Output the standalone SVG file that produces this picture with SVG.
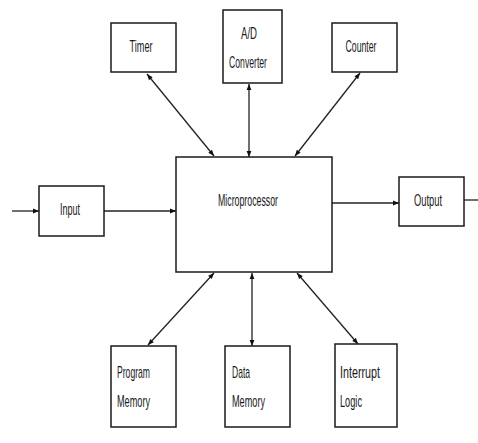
<svg xmlns="http://www.w3.org/2000/svg" width="478" height="443" viewBox="0 0 478 443">
<style>
.box{fill:#fff;stroke:#1a1a1a;stroke-width:1.5}
.t{font-family:"Liberation Sans",Arial,sans-serif;font-size:17px;fill:#1a1a1a}
.c{fill:none;stroke:#222;stroke-width:1.3}
.bi{marker-start:url(#ah);marker-end:url(#ah)}
.one{marker-end:url(#ah)}
</style>
<defs>
<marker id="ah" viewBox="0 0 10 10" refX="10" refY="5" markerWidth="7" markerHeight="6" orient="auto-start-reverse" markerUnits="userSpaceOnUse">
<path d="M0,1 L10,5 L0,9 z" fill="#111"/>
</marker>
</defs>
<g id="connectors">
<line class="c one" x1="12" y1="211" x2="39" y2="211"/>
<line class="c one" x1="104" y1="211" x2="176" y2="211"/>
<line class="c one" x1="332" y1="203" x2="399" y2="203"/>
<line class="c" x1="464" y1="200" x2="478" y2="200"/>
<line class="c bi" x1="147" y1="74" x2="214" y2="156"/>
<line class="c bi" x1="249" y1="84" x2="249" y2="157"/>
<line class="c bi" x1="360" y1="73" x2="295" y2="156"/>
<line class="c bi" x1="214" y1="273" x2="148" y2="345"/>
<line class="c bi" x1="252" y1="273" x2="252" y2="346"/>
<line class="c bi" x1="297" y1="273" x2="358" y2="344"/>
</g>
<g id="timer"><rect class="box" x="111" y="23" width="65" height="49"/><text class="t" x="141" y="52" text-anchor="middle" textLength="23" lengthAdjust="spacingAndGlyphs">Timer</text></g>
<g id="ad"><rect class="box" x="223" y="10" width="59" height="73"/><text class="t" x="249" y="39" text-anchor="middle" textLength="16" lengthAdjust="spacingAndGlyphs">A/D</text><text class="t" x="248" y="68" text-anchor="middle" textLength="38" lengthAdjust="spacingAndGlyphs">Converter</text></g>
<g id="counter"><rect class="box" x="332" y="23" width="65" height="49"/><text class="t" x="361" y="52" text-anchor="middle" textLength="31" lengthAdjust="spacingAndGlyphs">Counter</text></g>
<g id="input"><rect class="box" x="39" y="186" width="65" height="50"/><text class="t" x="70" y="215" text-anchor="middle" textLength="20" lengthAdjust="spacingAndGlyphs">Input</text></g>
<g id="microprocessor"><rect class="box" x="176" y="157" width="156" height="115"/><text class="t" x="248" y="206" text-anchor="middle" textLength="60" lengthAdjust="spacingAndGlyphs">Microprocessor</text></g>
<g id="output"><rect class="box" x="399" y="177" width="65" height="49"/><text class="t" x="428" y="206" text-anchor="middle" textLength="28" lengthAdjust="spacingAndGlyphs">Output</text></g>
<g id="program-memory"><rect class="box" x="111" y="346" width="65" height="81"/><text class="t" x="117" y="378" textLength="33" lengthAdjust="spacingAndGlyphs">Program</text><text class="t" x="117" y="407" textLength="33" lengthAdjust="spacingAndGlyphs">Memory</text></g>
<g id="data-memory"><rect class="box" x="225" y="346" width="65" height="81"/><text class="t" x="232" y="378" textLength="18" lengthAdjust="spacingAndGlyphs">Data</text><text class="t" x="232" y="407" textLength="33" lengthAdjust="spacingAndGlyphs">Memory</text></g>
<g id="interrupt-logic"><rect class="box" x="335" y="344" width="62" height="83"/><text class="t" x="340" y="378" textLength="40" lengthAdjust="spacingAndGlyphs">Interrupt</text><text class="t" x="340" y="407" textLength="22" lengthAdjust="spacingAndGlyphs">Logic</text></g>
</svg>
